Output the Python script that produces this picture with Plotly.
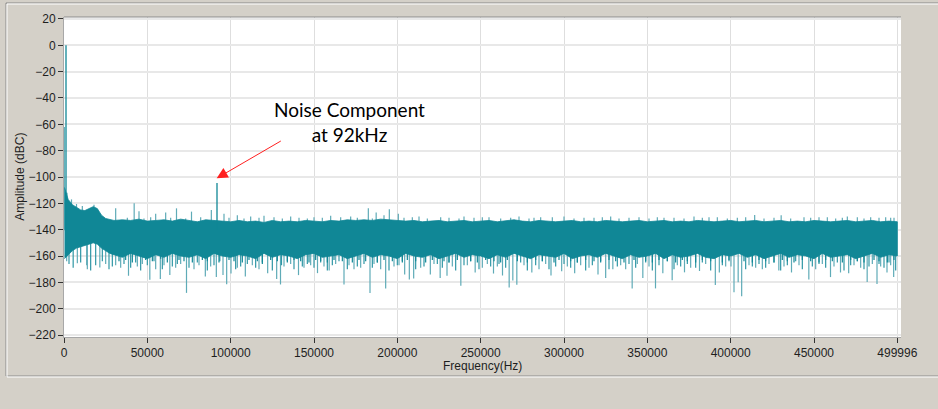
import plotly.graph_objects as go

# ---------------- data ----------------
# dense noise band envelope (frequency in kHz, amplitude in dBc)
env_khz = [
    0.3, 2.5, 5, 7.5, 10, 12.5, 15, 17.5, 20, 22.5,
    25, 27.5, 30, 35, 40, 45, 50, 55, 60, 65,
    70, 75, 80, 85, 90, 95, 100, 105, 110, 115,
    120, 125, 130, 135, 140, 145, 150, 155, 160, 165,
    170, 175, 180, 185, 190, 195, 200, 205, 210, 215,
    220, 225, 230, 235, 240, 245, 250, 255, 260, 265,
    270, 275, 280, 285, 290, 295, 300, 305, 310, 315,
    320, 325, 330, 335, 340, 345, 350, 355, 360, 365,
    370, 375, 380, 385, 390, 395, 400, 405, 410, 415,
    420, 425, 430, 435, 440, 445, 450, 455, 460, 465,
    470, 475, 480, 485, 490, 495, 499.996,
]
env_top_db = [
    -108, -117, -121, -123, -125, -125.5, -124, -122.5, -124, -129,
    -131.5, -132, -133, -132.5, -133, -132, -133.5, -133, -132.5, -133.5,
    -132, -133, -134, -132.5, -133, -133.5, -134, -133, -134, -133.5,
    -134.5, -133, -134, -133.5, -134, -133, -133.5, -134, -133, -133.5,
    -132.5, -133, -132.5, -133, -132, -132.5, -133, -133.5, -133, -134,
    -133.5, -133, -134, -133.5, -133, -134, -133.5, -133, -134, -133,
    -132.5, -133.5, -134, -133, -133.5, -134, -133.5, -133, -134, -133.5,
    -134, -133, -133.5, -134, -133.5, -133, -134, -133.5, -133, -134,
    -133.5, -134, -133, -133.5, -134, -133.5, -133, -134, -133.5, -133,
    -134, -133.5, -133, -134, -133.5, -134, -133, -133.5, -134, -133.5,
    -133, -134, -133.5, -133, -134, -133.5, -134,
]
env_bottom_db = [
    -162, -159, -156, -154, -153, -152, -151, -150, -151, -154,
    -156, -158, -159, -161, -158, -160, -162, -159, -161, -158,
    -160, -161, -159, -162, -158, -160, -161, -159, -160, -162,
    -158, -161, -159, -160, -162, -159, -158, -161, -160, -159,
    -162, -160, -158, -161, -159, -160, -162, -158, -160, -161,
    -159, -162, -160, -158, -161, -159, -160, -162, -159, -161,
    -158, -160, -162, -159, -160, -161, -158, -162, -160, -159,
    -161, -158, -160, -162, -159, -161, -160, -158, -162, -159,
    -161, -160, -158, -161, -162, -159, -160, -158, -161, -159,
    -162, -160, -158, -161, -159, -160, -162, -158, -161, -160,
    -159, -162, -160, -158, -161, -159, -160,
]

# strong tones
tone_khz = [0.0, 1.2, 91.8]
tone_db = [-62, 0, -104.5]

# deep downward noise spikes (kHz, dBc)
down_khz = [
    1.6, 8.0, 13.6, 14.0, 21.5, 25, 31, 34, 38.7, 44, 47, 51.5, 55, 57.8, 60,
    63.5, 67, 70, 73.5, 78, 81, 84.8, 88, 91.4, 95.4, 97.6, 100.2, 104, 108.8,
    113, 117, 122.2, 127.6, 129.9, 132, 136, 140.7, 144, 148, 152.1, 156, 159.1,
    163, 168.0, 171, 174.0, 178, 183.6, 186, 190.0, 193.0, 198.0, 201, 204.4,
    207.2, 209.8, 214, 219.8, 222, 225.7, 229.8, 233, 238.1, 242, 246.7, 251,
    254, 257.7, 260, 263.1, 267.1, 269.3, 271.7, 276, 280.7, 285, 289, 292.2,
    298.6, 302, 306.4, 310, 315, 320.4, 325.0, 329.3, 334, 337, 340.9, 344,
    347.3, 351, 354.9, 359.3, 364.9, 368, 372.3, 376, 381.3, 385, 390.8, 393.2,
    397, 400.2, 402.0, 404.5, 406.6, 411, 415, 419.0, 423, 428.9, 432, 436.5,
    441, 446.9, 451, 455, 459.9, 462, 465.9, 470.8, 474, 478, 481.9, 485,
    487.8, 490, 493.8, 496, 497.8,
]
down_db = [
    -164, -165.5, -167, -170, -168.8, -166, -167, -169, -175, -168, -166, -178, -170, -177.5, -167,
    -174.4, -169, -166, -188, -170, -167, -175.5, -168, -176, -174.4, -181.4, -173.2, -169, -175.5,
    -167, -170, -173, -177.5, -181.6, -168, -166, -174.5, -169, -167, -173, -168, -171,
    -166, -181.6, -167, -170, -169, -188, -166, -170, -184.7, -168, -167, -174,
    -177.8, -177, -169, -174, -166, -176.7, -175, -168, -182.5, -167, -172.5, -169,
    -166, -173.3, -168, -174.8, -184, -178.6, -181.8, -167, -172.5, -170, -166, -174.8,
    -171.5, -168, -173, -167, -169, -174, -176.7, -170, -167, -170, -184.6, -166,
    -176.7, -168, -184.6, -173, -178.5, -167, -172.4, -169, -171.4, -166, -182, -172.5,
    -168, -168, -187.5, -180, -190.5, -167, -169, -170, -166, -171, -168, -172.5,
    -167, -177.8, -170, -166, -176, -168, -172.5, -173, -167, -169, -179.8, -166,
    -181.2, -168, -172.5, -167, -176,
]

# medium downward spikes just below the band
mid_khz = [
    3, 5.5, 10, 16, 19, 23, 27, 29, 36, 40,
    43, 46, 50, 54, 59, 65, 68, 75, 80, 86,
    90, 93.5, 103, 106, 110, 115, 119, 125, 130.5, 134,
    138, 143, 146, 150, 154, 158, 161, 165, 170, 176,
    180, 185, 188, 195, 200, 203, 211, 216, 224, 227,
    231, 235, 240, 244, 249, 256, 261, 265, 274, 278,
    283, 287, 291, 295, 300, 304, 308, 313, 317, 322,
    327, 332, 339, 343, 349, 353, 357, 362, 366, 370,
    374, 379, 383, 388, 395, 399, 409, 413, 417, 421,
    426, 430, 434, 439, 443, 449, 453, 457, 464, 468,
    472, 476, 480, 483, 489, 492, 495, 499,
]
mid_db = [
    -166, -169, -165, -171, -167, -164, -170, -168, -166, -169,
    -165, -171, -167, -164, -170, -168, -166, -169, -165, -171,
    -167, -164, -170, -168, -166, -169, -165, -171, -167, -164,
    -170, -168, -166, -169, -165, -171, -167, -164, -170, -168,
    -166, -169, -165, -171, -167, -164, -170, -168, -166, -169,
    -165, -171, -167, -164, -170, -168, -166, -169, -165, -171,
    -167, -164, -170, -168, -166, -169, -165, -171, -167, -164,
    -170, -168, -166, -169, -165, -171, -167, -164, -170, -168,
    -166, -169, -165, -171, -167, -164, -170, -168, -166, -169,
    -165, -171, -167, -164, -170, -168, -166, -169, -165, -171,
    -167, -164, -170, -168, -166, -169, -165, -171,
]

# shallow downward ticks inside the lower edge of the band
ragged_khz = [
    33, 37, 41, 49, 53, 58, 62, 69, 72, 77, 83, 86, 93, 99, 102, 107, 111, 116,
    119, 124, 128, 134, 138, 142, 147, 151, 154, 158, 162, 167, 173, 177, 181,
    188, 192, 197, 203, 206, 211, 217, 221, 228, 231, 236, 244, 248, 253, 258,
    262, 266, 272, 278, 283, 287, 294, 297, 304, 308, 313, 318, 322, 327, 331,
    336, 342, 349, 353, 357, 362, 367, 371, 374, 379, 383, 388, 395, 399, 408,
    413, 417, 421, 426, 431, 434, 438, 443, 448, 453, 457, 461, 467, 472, 476,
    480, 486, 489, 494, 498,
]
ragged_db = [
    -164, -163, -165, -163, -164, -162, -165, -163, -164, -165, -163, -164, -165, -163, -164, -165, -163, -164,
    -166, -163, -164, -165, -163, -164, -165, -163, -164, -165, -163, -164, -165, -163, -164,
    -165, -163, -164, -165, -163, -164, -165, -163, -164, -165, -163, -164, -165, -163, -164,
    -165, -163, -164, -165, -163, -164, -165, -163, -164, -165, -163, -164, -165, -163, -164,
    -165, -163, -164, -165, -163, -164, -165, -163, -164, -165, -163, -164, -165, -163, -164,
    -165, -163, -164, -165, -163, -164, -165, -163, -164, -165, -163, -164, -165, -163, -164,
    -165, -163, -164, -165, -163,
]

# upward noise spikes above the band (kHz, dBc)
up_khz = [
    1.8, 4.5, 7.5, 11, 18, 31, 38, 42.1, 45, 48, 52, 55, 61, 64, 67.5, 73, 76.5,
    82, 88.4, 96, 99, 104, 108, 112, 117, 120, 126, 131, 136, 141, 146, 150, 155,
    160, 166, 172, 176, 182.6, 185, 187.3, 192, 195.2, 200.6, 204, 209, 213, 218,
    226, 231, 237, 240, 246, 251, 255, 262, 268, 273, 279, 282, 286, 293, 300,
    306, 312, 318, 323, 328, 333, 339, 345, 351, 356, 360, 366, 372, 378, 383,
    387, 392, 398, 404, 409, 414.4, 420, 426, 430.3, 436, 444, 448, 453, 458,
    463, 467, 470, 476, 480, 484, 489, 493, 496, 498,
]
up_db = [
    -112, -117, -120.5, -122, -121, -123.8, -131, -120, -126, -131.5, -130.5, -128, -127, -131, -123.8, -131.5, -126.3,
    -130.5, -125, -128, -131, -129, -131.5, -130, -131, -129.5, -130.5, -131.5, -130, -131, -131.5, -130.5, -131,
    -129.5, -130.5, -130, -131, -123.8, -131.5, -127, -129, -124.5, -128, -131, -130.5, -130, -131.5,
    -130.5, -131, -131.5, -130, -131, -130.5, -130.5, -131.5, -131, -130, -131.5, -131, -130.5, -130.5, -130,
    -131.5, -131, -131, -130.5, -130, -131.5, -131, -130.5, -131.5, -130.5, -131, -131, -131.5, -130, -131,
    -130.5, -130.5, -131.5, -131, -130.5, -128.9, -131.5, -131, -129, -131.5, -130.5, -131, -130.5, -130.5,
    -131.5, -131, -130, -130.5, -131.5, -130.5, -131, -130.5, -131, -131,
]

x_tickvals = [0, 50000, 100000, 150000, 200000, 250000, 300000, 350000, 400000, 450000, 499996]
x_ticktext = ["0", "50000", "100000", "150000", "200000", "250000", "300000",
              "350000", "400000", "450000", "499996"]
y_tickvals = [20, 0, -20, -40, -60, -80, -100, -120, -140, -160, -180, -200, -220]

# ---------------- styling ----------------
BAND = "#108796"
MID = "#2f97a5"
LIGHT = "#5fabb7"
BG = "#d4d0c8"


def segments(khz, db, base):
    xs, ys = [], []
    for f, v in zip(khz, db):
        xs += [f * 1000, f * 1000, None]
        ys += [base, v, None]
    return xs, ys


fig = go.Figure()

# spikes first, the dense band is drawn on top of their bases
for khz, db, base, col in [
    (down_khz, down_db, -150, LIGHT),
    (mid_khz, mid_db, -150, MID),
    (up_khz, up_db, -140, LIGHT),
    (ragged_khz, ragged_db, -150, BAND),
]:
    sx, sy = segments(khz, db, base)
    fig.add_trace(go.Scatter(x=sx, y=sy, mode="lines", line=dict(color=col, width=1.2),
                             hoverinfo="skip", showlegend=False))

# dense band as a closed polygon
band_x = [f * 1000 for f in env_khz] + [f * 1000 for f in env_khz[::-1]]
band_y = env_top_db + env_bottom_db[::-1]
fig.add_trace(go.Scatter(x=band_x, y=band_y, mode="lines", fill="toself",
                         fillcolor=BAND, line=dict(color=BAND, width=0.8),
                         hoverinfo="skip", showlegend=False))

sx, sy = segments(tone_khz, tone_db, -140)
fig.add_trace(go.Scatter(x=sx, y=sy, mode="lines", line=dict(color=BAND, width=1.3),
                         hoverinfo="skip", showlegend=False))

tick_font = dict(family="Liberation Sans, Arial, sans-serif", size=12, color="#1e1e1e")

fig.update_layout(
    width=938, height=409,
    margin=dict(l=64, r=37, t=17, b=72),
    paper_bgcolor=BG, plot_bgcolor="white",
    showlegend=False,
    xaxis=dict(range=[0, 502200], tickvals=x_tickvals, ticktext=x_ticktext,
               showgrid=True, gridcolor="#dedede", gridwidth=1,
               ticks="outside", ticklen=5, tickcolor="#333", tickfont=tick_font,
               showline=True, linecolor="#a8a8a8", linewidth=1, zeroline=False),
    yaxis=dict(range=[-221.5, 21.5], tickvals=y_tickvals,
               showgrid=True, gridcolor="#e8e8e8", gridwidth=2,
               ticks="outside", ticklen=5, tickcolor="#333", tickfont=tick_font,
               showline=True, linecolor="#a8a8a8", linewidth=1, zeroline=False),
    shapes=[
        # window frame (sunken 3D look)
        dict(type="rect", xref="paper", yref="paper", x0=-0.0693, x1=1.2, y0=-0.1219, y1=1.0438,
             line=dict(color="#8c8c8c", width=1), fillcolor="rgba(0,0,0,0)", layer="below"),
        dict(type="rect", xref="paper", yref="paper", x0=-0.0681, x1=1.2, y0=-0.125, y1=1.0406,
             line=dict(color="#ffffff", width=1), fillcolor="rgba(0,0,0,0)", layer="below"),
        # top border of plot area
        dict(type="line", xref="paper", yref="paper", x0=0, x1=1, y0=1, y1=1,
             line=dict(color="#8c8c8c", width=1)),
    ],
    annotations=[
        dict(xref="paper", yref="paper", x=0.5, y=-0.092, yanchor="middle", xanchor="center",
             text="Frequency(Hz)", showarrow=False, font=tick_font),
        dict(xref="paper", yref="paper", x=-0.053, y=0.5, textangle=-90,
             xanchor="center", yanchor="middle", text="Amplitude (dBC)", showarrow=False,
             font=tick_font),
        dict(xref="x", yref="y", x=171300, y=-58, text="Noise Component<br>at 92kHz",
             showarrow=False, font=dict(family="Lato, sans-serif", size=19, color="black")),
        dict(xref="x", yref="y", x=91600, y=-101, ax=131000, ay=-72, axref="x", ayref="y",
             text="", showarrow=True, arrowhead=2, arrowsize=2.2, arrowwidth=1,
             arrowcolor="#ff2020"),
    ],
)

fig.write_html(
    "out.html",
    config={"displayModeBar": False},
    post_script="document.body.style.margin='0px';"
                "document.body.style.background='#d4d0c8';"
                "document.body.style.overflow='hidden';",
)
